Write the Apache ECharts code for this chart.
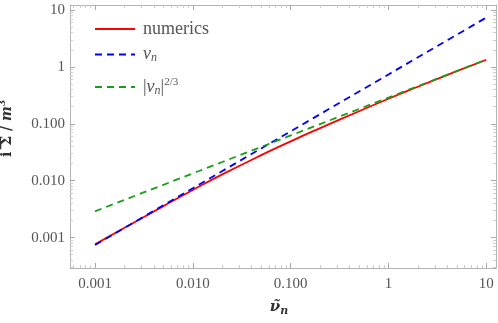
<!DOCTYPE html>
<html>
<head>
<meta charset="utf-8">
<script src="https://cdn.jsdelivr.net/npm/echarts@6/dist/echarts.min.js"></script>
<style>html,body{margin:0;padding:0;background:#fff}#c{width:498px;height:323px}</style>
</head>
<body>
<div id="c"></div>
<script>
// ---- data ----
const nuValues   = [0.001, 0.002, 0.005, 0.01, 0.02, 0.05, 0.1, 0.2, 0.5, 1, 2, 5, 10];
const numerics   = [0.000759, 0.001486, 0.003581, 0.006887, 0.01291, 0.02818, 0.04932, 0.08414, 0.1667, 0.2767, 0.4498, 0.8433, 1.34];
const nuLinear   = [0.00074, 0.00148, 0.0037, 0.0074, 0.0148, 0.037, 0.074, 0.148, 0.37, 0.74, 1.48, 3.7, 7.4];
const nuTwoThird = [0.0029, 0.0046, 0.00848, 0.01346, 0.02137, 0.03936, 0.0625, 0.0992, 0.1827, 0.29, 0.46, 0.848, 1.346];
const xTickValues = [0.001, 0.01, 0.1, 1, 10];
const xTickLabels = ['0.001', '0.010', '0.100', '1', '10'];
const yTickValues = [0.001, 0.01, 0.1, 1, 10];
const yTickLabels = ['0.001', '0.010', '0.100', '1', '10'];
const xRange = [0.000555, 12.56];
const yRange = [0.000292, 12.3];

// ---- build (log10 space on value axes) ----
const L = Math.log10;
const toPts = ys => nuValues.map((x, i) => [L(x), L(ys[i])]);
function minorLogs(r) {
  const out = [];
  for (let d = -5; d <= 2; d++) for (let k = 2; k <= 9; k++) {
    const v = k * Math.pow(10, d);
    if (v > r[0] && v < r[1]) out.push(L(v));
  }
  return out;
}
const xMajor = xTickValues.map(L), yMajor = yTickValues.map(L);
const xMinor = minorLogs(xRange), yMinor = minorLogs(yRange);
const lblFmt = (vals, labels) => v => {
  let best = 0;
  vals.forEach((t, i) => { if (Math.abs(t - v) < Math.abs(vals[best] - v)) best = i; });
  return labels[best];
};
const frame = '#b4b4b4', minorCol = '#cdcdcd', majorCol = '#a8a8a8';
const serif = '"Liberation Serif", "DejaVu Serif", serif';
const dserif = '"DejaVu Serif", "Liberation Serif", serif';

function mkX(pos, major, showLabel, showLine, name) {
  const a = {
    type: 'value', position: pos, min: L(xRange[0]), max: L(xRange[1]),
    splitLine: { show: false },
    axisLine: { show: showLine, onZero: false, lineStyle: { color: frame, width: 1 } },
    axisTick: { show: true, inside: true, length: major ? 5 : 3,
      customValues: major ? xMajor : xMinor,
      lineStyle: { color: major ? majorCol : minorCol, width: 1 } },
    axisLabel: { show: showLabel, customValues: xMajor, formatter: lblFmt(xMajor, xTickLabels),
      fontFamily: serif, fontSize: 15, color: '#555', margin: 9 }
  };
  if (name) {
    a.name = '{b|ν̃}{s|n}';
    a.nameLocation = 'middle'; a.nameGap = 30;
    a.nameTextStyle = { padding: [0, 8, 0, 0], rich: {
      b: { fontFamily: dserif, fontSize: 15, fontWeight: 'bold', fontStyle: 'italic', color: '#333' },
      s: { fontFamily: dserif, fontSize: 11, fontWeight: 'bold', fontStyle: 'italic', color: '#333', verticalAlign: 'bottom', padding: [8, 0, 0, 0] } } };
  }
  return a;
}
function mkY(pos, major, showLabel, showLine, name) {
  const a = {
    type: 'value', position: pos, min: L(yRange[0]), max: L(yRange[1]),
    splitLine: { show: false },
    axisLine: { show: showLine, onZero: false, lineStyle: { color: frame, width: 1 } },
    axisTick: { show: true, inside: true, length: major ? 5 : 3,
      customValues: major ? yMajor : yMinor,
      lineStyle: { color: major ? majorCol : minorCol, width: 1 } },
    axisLabel: { show: showLabel, customValues: yMajor, formatter: lblFmt(yMajor, yTickLabels),
      fontFamily: serif, fontSize: 15, color: '#555', margin: 5 }
  };
  if (name) {
    a.name = '{b|i }{bar|\u203E}{b|\u03A3 / }{m|m}{p|3}';
    a.nameLocation = 'middle'; a.nameGap = 54; a.nameRotate = 90;
    a.nameTextStyle = { padding: [0, 0, 0, 16], rich: {
      b: { fontFamily: dserif, fontSize: 14, fontWeight: 'bold', color: '#333' },
      bar: { fontFamily: dserif, fontSize: 14, fontWeight: 'bold', color: '#333', width: 0, align: 'left', padding: [0, 0, 0, 1] },
      m: { fontFamily: dserif, fontSize: 14, fontWeight: 'bold', fontStyle: 'italic', color: '#333' },
      p: { fontFamily: dserif, fontSize: 9, fontWeight: 'bold', color: '#333', verticalAlign: 'top', padding: [0, 0, 9, 0] } } };
  }
  return a;
}

const legendNames = ['numerics', 'nu', 'nu23'];
const legendTops = [15, 40.5, 72];
const legendRich = {
  t: { fontFamily: serif, fontSize: 18, color: '#555' },
  i: { fontFamily: serif, fontSize: 18, fontStyle: 'italic', color: '#555' },
  s: { fontFamily: serif, fontSize: 12, fontStyle: 'italic', color: '#555', verticalAlign: 'bottom', padding: [7, 0, 0, 0] },
  p: { fontFamily: serif, fontSize: 11, color: '#555', verticalAlign: 'top', padding: [0, 0, 9, 0] }
};
const legends = legendNames.map((n, k) => ({
  orient: 'vertical', left: 89, top: legendTops[k], itemWidth: 40, itemHeight: 14,
  data: [n], itemStyle: { opacity: 0 }, selectedMode: false,
  formatter: n => n === 'numerics' ? '{t|numerics}' : (n === 'nu' ? '{i|ν}{s|n}' : '{t||}{i|ν}{s|n}{t||}{p|2/3}'),
  textStyle: { color: '#555', padding: [0, 0, 0, 3], rich: legendRich }
}));

const chart = echarts.init(document.getElementById('c'), null, { renderer: 'canvas' });
chart.setOption({
  animation: false,
  backgroundColor: '#fff',
  grid: { left: 70, right: 2, top: 5, bottom: 55, containLabel: false, outerBoundsMode: 'none' },
  xAxis: [ mkX('bottom', true, true, true, true), mkX('bottom', false, false, false, false),
           mkX('top', true, false, true, false),  mkX('top', false, false, false, false) ],
  yAxis: [ mkY('left', true, true, true, true), mkY('left', false, false, false, false),
           mkY('right', true, false, true, false), mkY('right', false, false, false, false) ],
  legend: legends,
  series: [
    { name: 'numerics', type: 'line', data: toPts(numerics), symbol: 'none', smooth: true,
      lineStyle: { color: '#ff0000', width: 1.8 }, itemStyle: { color: '#ff0000' } },
    { name: 'nu', type: 'line', data: toPts(nuLinear), symbol: 'none',
      lineStyle: { color: '#0000ff', width: 1.8, type: [7, 5] }, itemStyle: { color: '#0000ff' } },
    { name: 'nu23', type: 'line', data: toPts(nuTwoThird), symbol: 'none',
      lineStyle: { color: '#1a9e1a', width: 1.8, type: [7, 5] }, itemStyle: { color: '#1a9e1a' } }
  ]
});
</script>
</body>
</html>
